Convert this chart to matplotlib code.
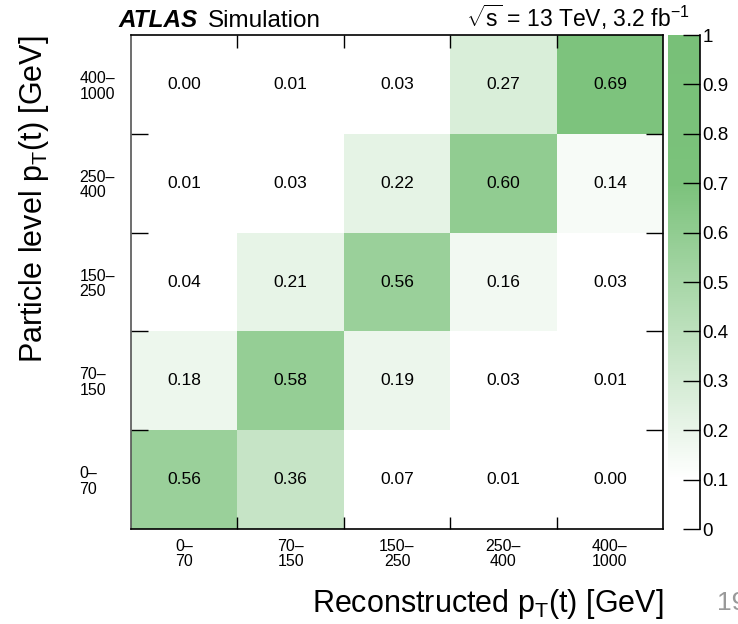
import matplotlib
matplotlib.use("Agg")
import matplotlib.pyplot as plt
from matplotlib.colors import LinearSegmentedColormap
import numpy as np

plt.rcParams["font.family"] = ["Liberation Sans", "DejaVu Sans"]
plt.rcParams["mathtext.fontset"] = "custom"
plt.rcParams["mathtext.rm"] = "Liberation Sans"
plt.rcParams["mathtext.it"] = "Liberation Sans:italic"

# ── data ───────────────────────────────────────────────────────────────────
RECO_BINS = ["0–\n70", "70–\n150", "150–\n250", "250–\n400", "400–\n1000"]
PART_BINS = ["0–\n70", "70–\n150", "150–\n250", "250–\n400", "400–\n1000"]

# rows: particle-level bin (bottom -> top), columns: reconstructed bin
ROW_0_70     = [0.56, 0.36, 0.07, 0.01, 0.00]
ROW_70_150   = [0.18, 0.58, 0.19, 0.03, 0.01]
ROW_150_250  = [0.04, 0.21, 0.56, 0.16, 0.03]
ROW_250_400  = [0.01, 0.03, 0.22, 0.60, 0.14]
ROW_400_1000 = [0.00, 0.01, 0.03, 0.27, 0.69]

CBAR_TICKS = [0, 0.1, 0.2, 0.3, 0.4, 0.5, 0.6, 0.7, 0.8, 0.9, 1.0]
CBAR_LABELS = ["0", "0.1", "0.2", "0.3", "0.4", "0.5", "0.6", "0.7", "0.8", "0.9", "1"]

# ── colours ────────────────────────────────────────────────────────────────
CMAP = LinearSegmentedColormap.from_list(
    "atlas_green",
    [(0.0, "#ffffff"), (0.1, "#ffffff"), (0.7, "#7bc27b"), (1.0, "#78c078")])

matrix = np.array([ROW_0_70, ROW_70_150, ROW_150_250, ROW_250_400, ROW_400_1000])

fig = plt.figure(figsize=(7.38, 6.24), dpi=100)
ax = fig.add_axes([0.1775, 0.1522, 0.7209, 0.7917])
cax = fig.add_axes([0.905, 0.1522, 0.043, 0.7917])

edges = np.arange(len(RECO_BINS) + 1)
mesh = ax.pcolormesh(edges, np.arange(len(PART_BINS) + 1), matrix,
                     cmap=CMAP, vmin=0, vmax=1)

for i in range(matrix.shape[0]):
    for j in range(matrix.shape[1]):
        ax.text(j + 0.5, i + 0.5, f"{matrix[i, j]:.2f}",
                ha="center", va="center", fontsize=12.5, color="black")

ax.set_xlim(0, len(RECO_BINS))
ax.set_ylim(0, len(PART_BINS))

# labels at bin centres, ticks at bin edges
centres = np.arange(len(RECO_BINS)) + 0.5
ax.set_xticks(centres)
ax.set_xticklabels(RECO_BINS, fontsize=11.5, linespacing=1.05)
ax.set_yticks(centres)
ax.set_yticklabels(PART_BINS, fontsize=11.5, linespacing=1.05, ha="left")
ax.tick_params(axis="both", which="major", length=0)
ax.tick_params(axis="x", which="major", pad=7)
ax.tick_params(axis="y", which="major", pad=37)
ax.set_xticks(edges[1:-1], minor=True)
ax.set_yticks(edges[1:-1], minor=True)
ax.tick_params(axis="x", which="minor", direction="in", length=9,
               top=True, bottom=True, width=1.0)
ax.tick_params(axis="y", which="minor", direction="in", length=12.5,
               left=True, right=True, width=1.0)
for s in ax.spines.values():
    s.set_linewidth(1.2)
ax.spines["left"].set_color("#555555")

ax.set_xlabel(r"Reconstructed p$_{\mathregular{T}}$(t) [GeV]", fontsize=22,
              ha="right")
ax.xaxis.set_label_coords(1.0, -0.117)
ax.set_ylabel(r"Particle level p$_{\mathregular{T}}$(t) [GeV]", fontsize=22,
              ha="right")
ax.yaxis.set_label_coords(-0.15, 1.0)

# ── colour bar ─────────────────────────────────────────────────────────────
cb = fig.colorbar(mesh, cax=cax)
cb.outline.set_visible(False)
cax.spines["right"].set_visible(True)
cax.spines["right"].set_linewidth(1.2)
cb.set_ticks(CBAR_TICKS)
cb.set_ticklabels(CBAR_LABELS)
cax.tick_params(axis="y", direction="in", length=12, width=1.0,
                labelsize=13.5, pad=2)
cax.minorticks_off()

# ── header text ────────────────────────────────────────────────────────────
fig.text(0.160, 0.957, "ATLAS", fontsize=17.5, fontweight="bold",
         fontstyle="italic", ha="left", va="baseline")
fig.text(0.282, 0.957, "Simulation", fontsize=17.5, ha="left", va="baseline")
fig.text(0.935, 0.957, r"$\sqrt{\mathregular{s}}$ = 13 TeV, 3.2 fb$^{\mathregular{-1}}$",
         fontsize=16.5, ha="right", va="baseline")

fig.text(0.972, 0.022, "19", fontsize=19, color="#999999", ha="left",
         va="baseline")

fig.savefig("out.png", dpi=100)
